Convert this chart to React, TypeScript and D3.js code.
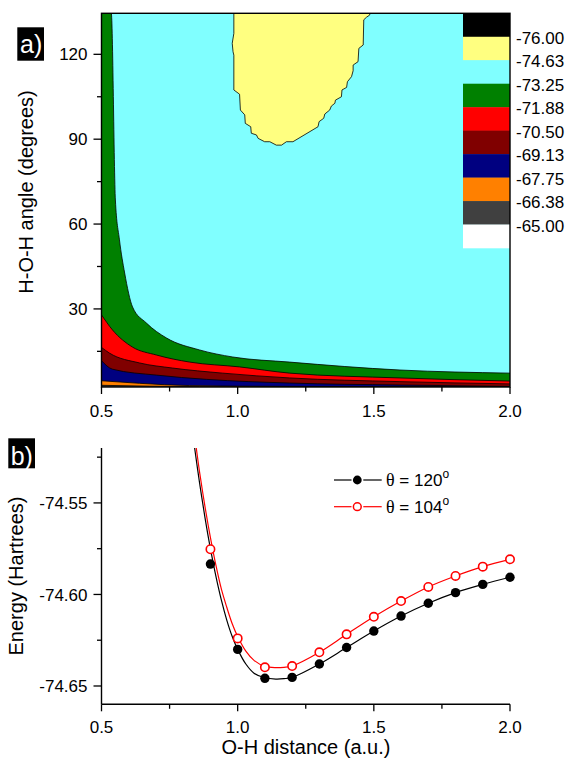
import React from "react";
import * as d3 from "d3";

// ---------- Panel a: contour band boundaries (r in a.u., angle in degrees) ----------
const cyanLowerR = [0.5, 0.536, 0.551, 0.566, 0.585, 0.614, 0.665, 0.739, 0.86, 0.982, 1.191, 1.596, 2.0];
const cyanLowerA = [134.5, 134.5, 68.5, 54.4, 42.7, 30.7, 25.0, 19.7, 15.5, 13.0, 11.2, 8.4, 7.3];
const greenLowerR = [0.5, 0.54, 0.614, 0.702, 0.824, 1.007, 1.191, 1.596, 2.0];
const greenLowerA = [27.9, 22.6, 16.5, 13.7, 11.2, 9.5, 7.3, 5.6, 4.5];
const redLowerR = [0.5, 0.529, 0.64, 0.761, 0.945, 1.191, 1.596, 2.0];
const redLowerA = [16.4, 14.4, 10.9, 9.1, 7.3, 5.6, 4.3, 3.5];
const darkRedLowerR = [0.5, 0.54, 0.702, 0.886, 1.191, 1.596, 2.0];
const darkRedLowerA = [11.7, 8.7, 6.6, 5.1, 3.8, 3.1, 2.6];
const navyLowerR = [0.5, 0.64, 0.824, 1.191, 2.0];
const navyLowerA = [4.6, 3.7, 2.9, 2.6, 2.45];
const orangeLowerR = [0.5, 0.676, 1.044, 2.0];
const orangeLowerA = [3.0, 2.7, 2.45, 2.42];

const yellowR = [0.986, 0.986, 0.98, 0.983, 0.986, 0.986, 1.007, 1.01, 1.026, 1.028, 1.048, 1.05, 1.069, 1.075, 1.099, 1.118, 1.142, 1.161, 1.179, 1.203, 1.295, 1.299, 1.316, 1.32, 1.338, 1.344, 1.357, 1.359, 1.381, 1.383, 1.4, 1.403, 1.418, 1.424, 1.424, 1.442, 1.445, 1.461, 1.463, 1.473, 1.485, 1.485];
const yellowA = [134.5, 127.4, 123.9, 120.9, 119.7, 107.4, 105.9, 100.3, 98.6, 95.6, 94.4, 92.1, 91.5, 90.3, 89.1, 89.1, 87.9, 87.9, 89.1, 89.1, 94.4, 96.2, 97.4, 98.9, 100.3, 101.7, 102.7, 103.8, 105.0, 107.4, 108.3, 110.3, 112.1, 114.2, 116.2, 117.4, 122.1, 123.3, 132.2, 133.1, 133.9, 134.5];

const angleDomain = [2.4, 134.5];
const rDomain = [0.5, 2.0];
const angleMajorTicks = [30, 60, 90, 120];
const angleMinorTicks = [15, 45, 75, 105];
const rMajorTicks = [0.5, 1.0, 1.5, 2.0];
const rMinorTicks = [0.75, 1.25, 1.75];

const levelLabels = ["-76.00", "-74.63", "-73.25", "-71.88", "-70.50", "-69.13", "-67.75", "-66.38", "-65.00"];
const bandColors = ["#000000", "#FFFF80", "#80FFFF", "#008000", "#FF0000", "#800000", "#000080", "#FF8000", "#404040", "#FFFFFF"];

// ---------- Panel b: energy curves ----------
const pointR = [0.9, 1.0, 1.1, 1.2, 1.3, 1.4, 1.5, 1.6, 1.7, 1.8, 1.9, 2.0];
const e120 = [-74.5834, -74.63, -74.6458, -74.6453, -74.638, -74.629, -74.62, -74.6118, -74.6048, -74.599, -74.5945, -74.5906];
const e104 = [-74.5753, -74.624, -74.6398, -74.6391, -74.6316, -74.6218, -74.6122, -74.6036, -74.5959, -74.5899, -74.5848, -74.5808];

const fit120R = [0.842, 0.86, 0.88, 0.9, 0.92, 0.94, 0.96, 0.98, 1.0, 1.03, 1.06, 1.1, 1.14, 1.17, 1.2];
const fit120E = [-74.52, -74.539, -74.558, -74.575, -74.59, -74.603, -74.614, -74.623, -74.63, -74.638, -74.643, -74.6455, -74.6462, -74.646, -74.6453];
const fit104R = [0.848, 0.86, 0.88, 0.9, 0.92, 0.94, 0.96, 0.98, 1.0, 1.03, 1.06, 1.1, 1.14, 1.17, 1.2];
const fit104E = [-74.52, -74.533, -74.552, -74.569, -74.584, -74.597, -74.607, -74.616, -74.623, -74.631, -74.636, -74.6393, -74.64, -74.6398, -74.6391];

const energyDomain = [-74.66, -74.52];
const eMajorTicks = [-74.55, -74.6, -74.65];
const eMinorTicks = [-74.525, -74.575, -74.625];
const seriesLabels = ["120", "104"];

const SANS = "'Liberation Sans', Arial, Helvetica, sans-serif";
const SERIF = "'Liberation Serif', 'Times New Roman', serif";

const zip = (a: number[], b: number[]) => a.map((v, i) => [v, b[i]] as [number, number]);

export default function App() {
  const L = 101.5, R = 510;
  const aTop = 13.3, aBot = 387;
  const bTop = 448, bBot = 704.3;

  const xA = d3.scaleLinear().domain(rDomain).range([L, R]);
  const yA = d3.scaleLinear().domain(angleDomain).range([aBot, aTop]);
  const xB = d3.scaleLinear().domain(rDomain).range([L, R]);
  const yB = d3.scaleLinear().domain(energyDomain).range([bBot, bTop]);

  const areaGen = d3
    .area<[number, number]>()
    .x((d) => xA(d[0]))
    .y0(yA(angleDomain[0]))
    .y1((d) => yA(d[1]))
    .curve(d3.curveMonotoneX);
  const lineGen = d3
    .line<[number, number]>()
    .x((d) => xA(d[0]))
    .y((d) => yA(d[1]))
    .curve(d3.curveMonotoneX);

  const bands = [
    { pts: zip(cyanLowerR, cyanLowerA), color: bandColors[3] },
    { pts: zip(greenLowerR, greenLowerA), color: bandColors[4] },
    { pts: zip(redLowerR, redLowerA), color: bandColors[5] },
    { pts: zip(darkRedLowerR, darkRedLowerA), color: bandColors[6] },
    { pts: zip(navyLowerR, navyLowerA), color: bandColors[7] },
    { pts: zip(orangeLowerR, orangeLowerA), color: bandColors[8] },
  ];

  const yellowPath = d3
    .line<[number, number]>()
    .x((d) => xA(d[0]))
    .y((d) => yA(d[1]))
    .curve(d3.curveLinearClosed)(zip(yellowR, yellowA)) as string;

  // colorbar
  const cbX0 = 463, cbX1 = R;
  const cbScale = d3.scaleBand<number>().domain(d3.range(bandColors.length)).range([aTop, 248]).paddingInner(0);

  // panel b lines
  const lineB = d3
    .line<[number, number]>()
    .x((d) => xB(d[0]))
    .y((d) => yB(d[1]))
    .curve(d3.curveCatmullRom.alpha(0.5));
  const line120 = zip(fit120R, fit120E).concat(zip(pointR, e120).filter((d) => d[0] > 1.2));
  const line104 = zip(fit104R, fit104E).concat(zip(pointR, e104).filter((d) => d[0] > 1.2));

  const series = [
    { line: line120, pts: zip(pointR, e120), color: "#000000", filled: true },
    { line: line104, pts: zip(pointR, e104), color: "#FF0000", filled: false },
  ];

  const legendY = [480, 506.7];

  return (
    <div style={{ position: "absolute", left: 0, top: 0 }}>
      <svg width={572} height={760} viewBox="0 0 572 760" style={{ display: "block", background: "#fff" }}>
        <defs>
          <clipPath id="clipA">
            <rect x={L} y={aTop} width={R - L} height={aBot - aTop} />
          </clipPath>
          <clipPath id="clipB">
            <rect x={L} y={bTop} width={R - L + 2} height={bBot - bTop} />
          </clipPath>
        </defs>

        {/* ---------- Panel a ---------- */}
        <g clipPath="url(#clipA)">
          <rect x={L} y={aTop} width={R - L} height={aBot - aTop} fill={bandColors[2]} />
          {bands.map((b, i) => (
            <path key={"ba" + i} d={areaGen(b.pts) as string} fill={b.color} />
          ))}
          {bands.map((b, i) => (
            <path key={"bl" + i} d={lineGen(b.pts) as string} fill="none" stroke="#000" strokeWidth={0.8} />
          ))}
          <path d={yellowPath} fill={bandColors[1]} stroke="#000" strokeWidth={0.8} />
          {bandColors.map((c, i) => (
            <rect key={"cb" + i} x={cbX0} y={cbScale(i)} width={cbX1 - cbX0} height={cbScale.bandwidth() + 0.3} fill={c} />
          ))}
        </g>
        <rect x={L} y={aTop} width={R - L} height={aBot - aTop} fill="none" stroke="#000" strokeWidth={1.4} />
        {levelLabels.map((t, i) => (
          <text key={"lv" + i} x={516} y={(cbScale(i) as number) + cbScale.bandwidth() + 1} dy="0.36em" fontSize={17} fontFamily={SANS} fill="#000">
            {t}
          </text>
        ))}
        {angleMajorTicks.map((t) => (
          <g key={"ay" + t}>
            <line x1={L - 8} x2={L} y1={yA(t)} y2={yA(t)} stroke="#000" strokeWidth={1.3} />
            <text x={L - 14} y={yA(t)} dy="0.36em" textAnchor="end" fontSize={17} fontFamily={SANS}>
              {t}
            </text>
          </g>
        ))}
        {angleMinorTicks.map((t) => (
          <line key={"aym" + t} x1={L - 4.5} x2={L} y1={yA(t)} y2={yA(t)} stroke="#000" strokeWidth={1.3} />
        ))}
        {rMajorTicks.map((t) => (
          <g key={"ax" + t}>
            <line x1={xA(t)} x2={xA(t)} y1={aBot} y2={aBot + 7} stroke="#000" strokeWidth={1.3} />
            <text x={xA(t)} y={aBot + 29.7} textAnchor="middle" fontSize={17} fontFamily={SANS}>
              {t.toFixed(1)}
            </text>
          </g>
        ))}
        {rMinorTicks.map((t) => (
          <line key={"axm" + t} x1={xA(t)} x2={xA(t)} y1={aBot} y2={aBot + 4.5} stroke="#000" strokeWidth={1.3} />
        ))}
        <text transform={`translate(33,192) rotate(-90)`} textAnchor="middle" fontSize={20} fontFamily={SANS}>
          H-O-H angle (degrees)
        </text>
        <rect x={17.3} y={27.3} width={26.7} height={33.4} fill="#000" />
        <text x={20} y={53.3} fontSize={25} fontFamily={SANS} fill="#fff">
          a)
        </text>

        {/* ---------- Panel b ---------- */}
        <g clipPath="url(#clipB)">
          {series.map((s, i) => (
            <path key={"sl" + i} d={lineB(s.line) as string} fill="none" stroke={s.color} strokeWidth={1.2} />
          ))}
        </g>
        {series.map((s, i) => (
          <g key={"sp" + i}>
            {s.pts.map((p, j) =>
              s.filled ? (
                <circle key={j} cx={xB(p[0])} cy={yB(p[1])} r={4.7} fill={s.color} />
              ) : (
                <circle key={j} cx={xB(p[0])} cy={yB(p[1])} r={4.2} fill="#fff" stroke={s.color} strokeWidth={1.6} />
              )
            )}
          </g>
        ))}
        <line x1={L} x2={L} y1={bTop} y2={bBot} stroke="#000" strokeWidth={1.4} />
        <line x1={L} x2={R} y1={bBot} y2={bBot} stroke="#000" strokeWidth={1.4} />
        {eMajorTicks.map((t) => (
          <g key={"by" + t}>
            <line x1={L - 8} x2={L} y1={yB(t)} y2={yB(t)} stroke="#000" strokeWidth={1.3} />
            <text x={L - 14} y={yB(t)} dy="0.36em" textAnchor="end" fontSize={17} fontFamily={SANS}>
              {t.toFixed(2)}
            </text>
          </g>
        ))}
        {eMinorTicks.map((t) => (
          <line key={"bym" + t} x1={L - 4.5} x2={L} y1={yB(t)} y2={yB(t)} stroke="#000" strokeWidth={1.3} />
        ))}
        {rMajorTicks.map((t) => (
          <g key={"bx" + t}>
            <line x1={xB(t)} x2={xB(t)} y1={bBot} y2={bBot + 7} stroke="#000" strokeWidth={1.3} />
            <text x={xB(t)} y={bBot + 28.7} textAnchor="middle" fontSize={17} fontFamily={SANS}>
              {t.toFixed(1)}
            </text>
          </g>
        ))}
        {rMinorTicks.map((t) => (
          <line key={"bxm" + t} x1={xB(t)} x2={xB(t)} y1={bBot} y2={bBot + 4.5} stroke="#000" strokeWidth={1.3} />
        ))}
        <text transform={`translate(22.5,576) rotate(-90)`} textAnchor="middle" fontSize={20} fontFamily={SANS}>
          Energy (Hartrees)
        </text>
        <text x={306} y={754} textAnchor="middle" fontSize={20} fontFamily={SANS}>
          O-H distance (a.u.)
        </text>
        <rect x={8.3} y={438.3} width={26.7} height={30} fill="#000" />
        <text x={10.7} y={465} fontSize={25} fontFamily={SANS} fill="#fff">
          b)
        </text>

        {/* legend */}
        {series.map((s, i) => (
          <g key={"lg" + i}>
            <line x1={334} x2={351.5} y1={legendY[i]} y2={legendY[i]} stroke={s.color} strokeWidth={1.2} />
            <line x1={363.3} x2={381.7} y1={legendY[i]} y2={legendY[i]} stroke={s.color} strokeWidth={1.2} />
            {s.filled ? (
              <circle cx={357.3} cy={legendY[i]} r={4.4} fill={s.color} />
            ) : (
              <circle cx={357.3} cy={legendY[i]} r={3.9} fill="#fff" stroke={s.color} strokeWidth={1.5} />
            )}
            <text x={386} y={legendY[i] + 5.8} fontSize={17} fontFamily={SANS}>
              <tspan fontFamily={SERIF} fontSize={18}>θ</tspan>
              <tspan> = {seriesLabels[i]}</tspan>
              <tspan fontSize={12} dy={-7.5}>o</tspan>
            </text>
          </g>
        ))}
      </svg>
    </div>
  );
}
